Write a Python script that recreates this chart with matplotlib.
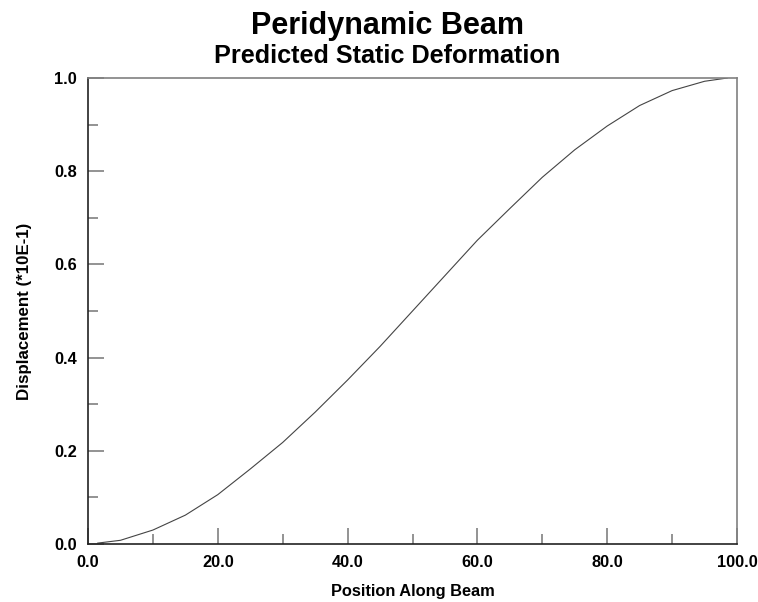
import matplotlib
matplotlib.use("Agg")
import matplotlib.pyplot as plt
from matplotlib.ticker import MultipleLocator, FormatStrFormatter

# static deflection along the beam (displacement in units of 1E-1)
position = [1.5, 5, 10, 15, 20, 25, 30, 35, 40, 45, 50, 55, 60, 65, 70, 75, 80, 85, 90, 95, 98.5]
displacement = [0.002, 0.008, 0.030, 0.062, 0.106, 0.161, 0.218, 0.283, 0.352, 0.424, 0.500,
                0.576, 0.652, 0.720, 0.787, 0.846, 0.897, 0.941, 0.973, 0.993, 1.000]

plt.rcParams['font.family'] = ['Liberation Sans', 'DejaVu Sans']
plt.rcParams['font.weight'] = 'bold'

fig = plt.figure(figsize=(7.58, 6.02), dpi=100)
ax = fig.add_axes([0.1161, 0.0963, 0.8562, 0.7741])

ax.plot(position, displacement, color="#444444", linewidth=0.8)

ax.set_xlim(0, 100)
ax.set_ylim(0, 1.0)
ax.xaxis.set_major_locator(MultipleLocator(20))
ax.xaxis.set_minor_locator(MultipleLocator(10))
ax.yaxis.set_major_locator(MultipleLocator(0.2))
ax.yaxis.set_minor_locator(MultipleLocator(0.1))
ax.xaxis.set_major_formatter(FormatStrFormatter("%.1f"))
ax.yaxis.set_major_formatter(FormatStrFormatter("%.1f"))

ax.tick_params(which="major", direction="in", length=11.5, width=1.2, color="#808080",
               labelsize=11.8, pad=8)
ax.tick_params(which="minor", direction="in", length=7.5, width=1.2, color="#808080")
for lab in ax.get_xticklabels() + ax.get_yticklabels():
    lab.set_fontweight("bold")

ax.spines["left"].set_color("#222222")
ax.spines["bottom"].set_color("#222222")
ax.spines["top"].set_color("#808080")
ax.spines["right"].set_color("#808080")
for s in ax.spines.values():
    s.set_linewidth(1.2)

ax.set_xlabel("Position Along Beam", fontsize=11.8, fontweight="bold", labelpad=10)
ax.set_ylabel("Displacement (*10E-1)", fontsize=12.2, fontweight="bold", labelpad=16)

fig.text(0.511, 0.957, "Peridynamic Beam", ha="center", va="center",
         fontsize=22, fontweight="bold")
fig.text(0.511, 0.907, "Predicted Static Deformation", ha="center", va="center",
         fontsize=18.2, fontweight="bold")

fig.savefig("out.png", dpi=100)
